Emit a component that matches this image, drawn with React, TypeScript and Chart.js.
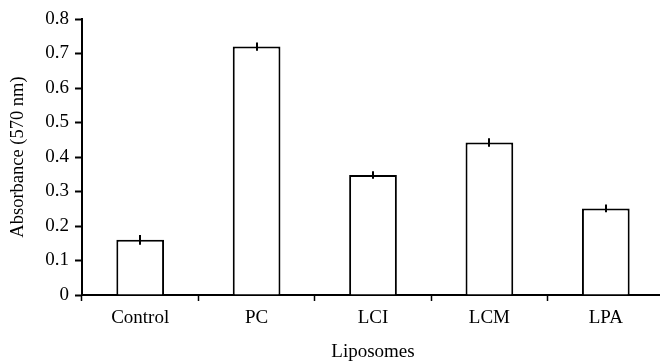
import React, { useEffect, useRef } from "react";
import { Chart, registerables } from "chart.js";

Chart.register(...registerables);

const categories = ["Control", "PC", "LCI", "LCM", "LPA"];
const values = [0.16, 0.72, 0.348, 0.442, 0.251];
const errors = [0.014, 0.012, 0.011, 0.012, 0.011];
const yTicks = [0, 0.1, 0.2, 0.3, 0.4, 0.5, 0.6, 0.7, 0.8];

const FONT = "'Liberation Serif', 'Times New Roman', serif";

const errorBarPlugin = {
  id: "errorBars",
  afterDatasetsDraw(chart: any) {
    const ctx = chart.ctx;
    const meta = chart.getDatasetMeta(0);
    const yScale = chart.scales.y;
    ctx.save();
    ctx.strokeStyle = "#000";
    ctx.lineWidth = 2;
    meta.data.forEach((bar: any, i: number) => {
      const x = Math.round(bar.x);
      const yTop = yScale.getPixelForValue(values[i] + errors[i]);
      const yBot = yScale.getPixelForValue(values[i] - errors[i]);
      ctx.beginPath();
      ctx.moveTo(x, yTop);
      ctx.lineTo(x, yBot);
      ctx.stroke();
    });
    ctx.restore();
  },
};

export default function App() {
  const ref = useRef<HTMLCanvasElement>(null);
  useEffect(() => {
    if (!ref.current) return;
    const chart = new Chart(ref.current, {
      type: "bar",
      data: {
        labels: categories,
        datasets: [
          {
            data: values,
            backgroundColor: "#fff",
            borderColor: "#000",
            borderWidth: 2,
            barPercentage: 0.41,
            categoryPercentage: 1,
          },
        ],
      },
      options: {
        animation: false,
        responsive: false,
        layout: { padding: { left: 0, right: 16, top: 19, bottom: 0 } },
        plugins: { legend: { display: false }, tooltip: { enabled: false } },
        scales: {
          x: {
            afterFit: (s: any) => {
              s.height = 67;
            },
            grid: {
              drawOnChartArea: false,
              drawTicks: true,
              tickLength: 6,
              tickColor: "#000",
              tickWidth: 1.5,
            },
            border: { color: "#000", width: 2 },
            ticks: {
              color: "#000",
              font: { family: FONT, size: 19, lineHeight: 1 },
              padding: 8,
            },
            title: {
              display: true,
              text: "Liposomes",
              color: "#000",
              font: { family: FONT, size: 19, lineHeight: 1 },
              padding: { top: 0, bottom: 0 },
            },
          },
          y: {
            min: 0,
            max: 0.8,
            afterFit: (s: any) => {
              s.width = 82;
            },
            afterBuildTicks: (s: any) => {
              s.ticks = yTicks.map((v) => ({ value: v }));
            },
            grid: {
              drawOnChartArea: false,
              drawTicks: true,
              tickLength: 7,
              tickColor: "#000",
              tickWidth: 2,
            },
            border: { color: "#000", width: 2 },
            ticks: {
              color: "#000",
              font: { family: FONT, size: 19 },
              padding: 6,
              callback: (v: any) => String(Number(v)),
            },
            title: {
              display: true,
              text: "Absorbance (570 nm)",
              color: "#000",
              font: { family: FONT, size: 18.5, lineHeight: 1 },
              padding: { top: 9, bottom: 0 },
            },
          },
        },
      },
      plugins: [errorBarPlugin],
    });
    return () => chart.destroy();
  }, []);
  return (
    <div
      style={{
        position: "fixed",
        left: 0,
        top: 0,
        width: 660,
        height: 362,
        overflow: "hidden",
        background: "#fff",
      }}
    >
      <canvas ref={ref} width={680} height={362} style={{ display: "block" }} />
    </div>
  );
}
